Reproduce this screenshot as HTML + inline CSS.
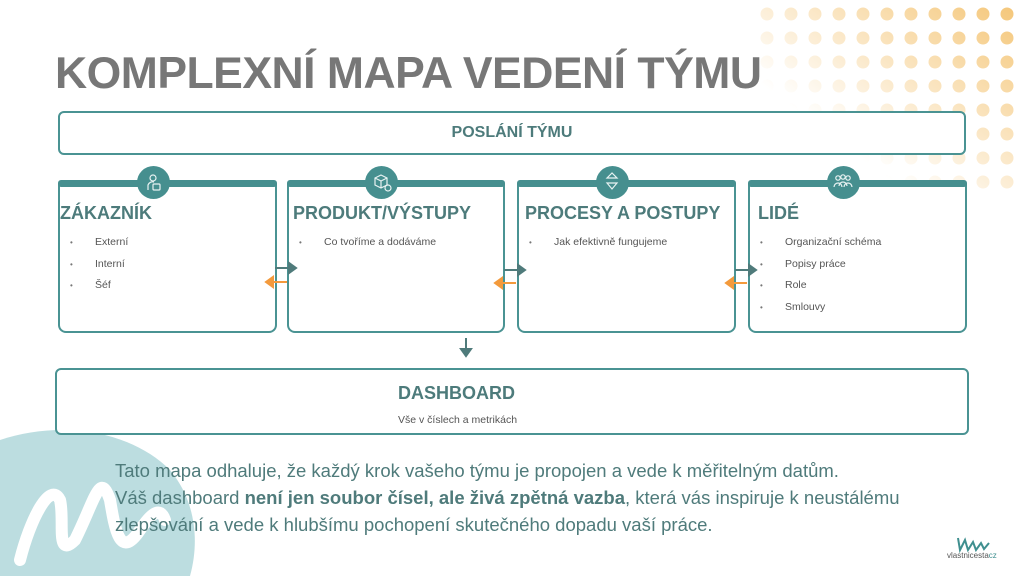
<!DOCTYPE html>
<html><head><meta charset="utf-8"><style>
body{margin:0;width:1024px;height:576px;overflow:hidden;background:#fff;font-family:"Liberation Sans",sans-serif;position:relative}
.a{position:absolute}
.title{left:55px;top:49px;font-size:44.5px;font-weight:bold;color:#777;letter-spacing:-0.5px;white-space:nowrap}
.box{position:absolute;border:2px solid #4a9393;border-radius:6px;box-sizing:border-box;background:#fff}
.card{position:absolute;top:183px;height:150px;border:2px solid #4a9393;border-top:none;border-radius:0 0 8px 8px;box-sizing:border-box;background:#fff}
.bar{position:absolute;top:-3px;left:-2px;right:-2px;height:7px;background:#468f8f;border-radius:3px}
.circ{position:absolute;width:33px;height:33px;border-radius:50%;background:#468f8f;top:166px}
.h{position:absolute;font-weight:bold;color:#4d7b7b;font-size:18px;white-space:nowrap;top:20px;left:0}
ul{position:absolute;margin:0;padding:0;list-style:none;font-size:10.5px;color:#555;top:53px;left:10px}
li{height:21.5px}
li:before{content:"•";font-size:8px;color:#777;display:inline-block;width:25px}
.p{left:115px;top:457px;font-size:18.5px;line-height:27px;color:#4f7b7b;white-space:nowrap}
</style></head><body>
<svg class="a" style="left:0;top:0" width="1024" height="576">
<defs>
<linearGradient id="g" x1="0" y1="1" x2="1" y2="0"><stop offset="0.3" stop-color="#fff" stop-opacity="0"/><stop offset="1" stop-color="#fff" stop-opacity="1"/></linearGradient>
<mask id="m"><rect x="755" y="0" width="269" height="200" fill="url(#g)"/></mask>
<pattern id="pt" x="755" y="2" width="24" height="24" patternUnits="userSpaceOnUse"><circle cx="12" cy="12" r="6.5" fill="#f4c473"/></pattern>
</defs>
<rect x="755" y="2" width="269" height="195" fill="url(#pt)" mask="url(#m)"/>
<path d="M0 440 C60 420 130 430 170 470 C195 500 200 540 190 576 L0 576 Z" fill="#bcdde0"/>
<path d="M20 560 C30 520 50 480 60 500 C65 520 55 560 75 540 C95 500 100 470 110 500 C115 530 120 560 140 530 C150 515 160 505 165 520" stroke="#fff" stroke-width="12" fill="none" stroke-linecap="round"/>
</svg>
<div class="a title">KOMPLEXNÍ MAPA VEDENÍ TÝMU</div>
<div class="box" style="left:58px;top:111px;width:908px;height:44px"><div class="a" style="left:0;right:0;top:11px;text-align:center;font-weight:bold;color:#4d7b7b;font-size:16px">POSLÁNÍ TÝMU</div></div>

<div class="card" style="left:58px;width:219px"><div class="bar"></div><div class="h">ZÁKAZNÍK</div><ul><li>Externí</li><li>Interní</li><li>Šéf</li></ul></div>
<div class="card" style="left:287px;width:218px"><div class="bar"></div><div class="h" style="left:4px">PRODUKT/VÝSTUPY</div><ul><li>Co tvoříme a dodáváme</li></ul></div>
<div class="card" style="left:517px;width:219px"><div class="bar"></div><div class="h" style="left:6px">PROCESY A POSTUPY</div><ul><li>Jak efektivně fungujeme</li></ul></div>
<div class="card" style="left:748px;width:219px"><div class="bar"></div><div class="h" style="left:8px">LIDÉ</div><ul><li>Organizační schéma</li><li>Popisy práce</li><li>Role</li><li>Smlouvy</li></ul></div>
<div class="circ" style="left:137px"></div><div class="circ" style="left:365px"></div><div class="circ" style="left:596px"></div><div class="circ" style="left:827px"></div>
<svg class="a" style="left:0;top:0" width="1024" height="576" fill="none" stroke="#e8f2f2" stroke-width="1.2">
<circle cx="153" cy="178" r="3"/><path d="M148 190 v-5 a5 5 0 0 1 6 -3"/><rect x="153" y="184" width="7" height="6" rx="1"/>
<path d="M375 178 l6 -3 6 3 v7 l-6 3 -6 -3z M375 178 l6 3 6 -3 M381 181 v7"/><circle cx="388" cy="188" r="3"/>
<path d="M612 173 l-5 5 h10 z M607 183 h10 l-5 6 z"/>
<circle cx="838" cy="178" r="2.2"/><circle cx="843" cy="177" r="2.2"/><circle cx="848" cy="178" r="2.2"/><path d="M834 187 a4 4 0 0 1 8 0 M839 186 a4 4 0 0 1 8 0 M844 187 a4 4 0 0 1 8 0"/>
</svg>
<svg class="a" style="left:0;top:0" width="1024" height="576">
<g stroke="#4f7b7b" stroke-width="2" fill="#4f7b7b">
<path d="M275 268 h14"/><path d="M289 263 l7 5 -7 5z"/>
<path d="M504 270 h14"/><path d="M518 265 l7 5 -7 5z"/>
<path d="M735 270 h14"/><path d="M749 265 l7 5 -7 5z"/>
<path d="M466 338 v12"/><path d="M461 349 l5 7 5 -7z"/>
</g>
<g stroke="#f39a3c" stroke-width="2" fill="#f39a3c">
<path d="M273 282 h14"/><path d="M273 277 l-7 5 7 5z"/>
<path d="M502 283 h14"/><path d="M502 278 l-7 5 7 5z"/>
<path d="M733 283 h14"/><path d="M733 278 l-7 5 7 5z"/>
</g>
</svg>
<div class="box" style="left:55px;top:368px;width:914px;height:67px"><div class="a" style="left:341px;top:13px;font-weight:bold;color:#4d7b7b;font-size:18px">DASHBOARD</div><div class="a" style="left:341px;top:44px;font-size:10.5px;color:#555">Vše v číslech a metrikách</div></div>
<div class="a p">Tato mapa odhaluje, že každý krok vašeho týmu je propojen a vede k měřitelným datům.<br>Váš dashboard <b>není jen soubor čísel, ale živá zpětná vazba</b>, která vás inspiruje k neustálému<br>zlepšování a vede k hlubšímu pochopení skutečného dopadu vaší práce.</div>
<svg class="a" style="left:950px;top:530px" width="50" height="40"><path d="M8 8 l2 12 5 -10 3 10 5 -8 3 8 5 -7 3 6 5 -6" stroke="#3f8f8f" stroke-width="2" fill="none"/></svg>
<div class="a" style="left:947px;top:551px;font-size:8px;color:#555;white-space:nowrap">vlastnicesta<span style="color:#3f8f8f">cz</span></div>
</body></html>
